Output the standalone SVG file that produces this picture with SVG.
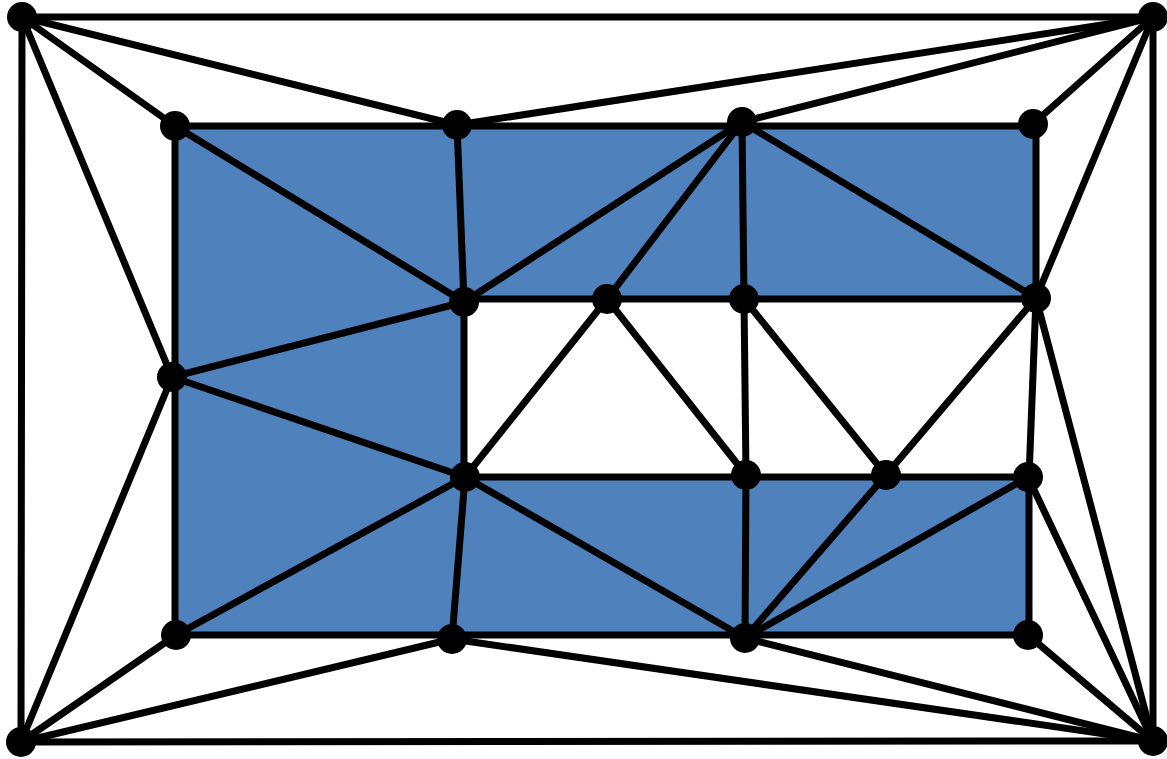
<svg xmlns="http://www.w3.org/2000/svg" width="1167" height="759" viewBox="0 0 1167 759">
<style>
.e{stroke:#000;stroke-width:7;stroke-linecap:round;fill:none}
.n{fill:#000}
.fill{fill:#4F81BD;stroke:none}
</style>
<rect width="1167" height="759" fill="#fff"/>
<polygon class="fill" points="175,126 1036,126 1036,299 464,299 464,477 1029,477 1029,635 175,635"/>
<g id="connectors">
<line class="e" x1="22" y1="17" x2="1153" y2="17"/>
<line class="e" x1="1153" y1="17" x2="1153" y2="741"/>
<line class="e" x1="1153" y1="741" x2="21" y2="742"/>
<line class="e" x1="21" y1="742" x2="22" y2="17"/>
<line class="e" x1="22" y1="17" x2="175" y2="126"/>
<line class="e" x1="22" y1="17" x2="457" y2="125"/>
<line class="e" x1="22" y1="17" x2="172" y2="377"/>
<line class="e" x1="1153" y1="17" x2="457" y2="125"/>
<line class="e" x1="1153" y1="17" x2="742" y2="122"/>
<line class="e" x1="1153" y1="17" x2="1033" y2="124"/>
<line class="e" x1="1153" y1="17" x2="1036" y2="298"/>
<line class="e" x1="21" y1="742" x2="172" y2="377"/>
<line class="e" x1="21" y1="742" x2="176" y2="635"/>
<line class="e" x1="21" y1="742" x2="452" y2="639"/>
<line class="e" x1="1153" y1="741" x2="452" y2="639"/>
<line class="e" x1="1153" y1="741" x2="745" y2="638"/>
<line class="e" x1="1153" y1="741" x2="1028" y2="635"/>
<line class="e" x1="1153" y1="741" x2="1028" y2="477"/>
<line class="e" x1="1153" y1="741" x2="1036" y2="298"/>
<line class="e" x1="175" y1="126" x2="1033" y2="126"/>
<line class="e" x1="1036" y1="126" x2="1036" y2="298"/>
<line class="e" x1="1036" y1="298" x2="1029" y2="477"/>
<line class="e" x1="1029" y1="477" x2="1029" y2="635"/>
<line class="e" x1="1029" y1="635" x2="175" y2="635"/>
<line class="e" x1="175" y1="635" x2="175" y2="126"/>
<line class="e" x1="464" y1="299" x2="1036" y2="299"/>
<line class="e" x1="464" y1="299" x2="464" y2="477"/>
<line class="e" x1="464" y1="477" x2="1029" y2="477"/>
<line class="e" x1="175" y1="126" x2="464" y2="302"/>
<line class="e" x1="457" y1="125" x2="464" y2="302"/>
<line class="e" x1="742" y1="122" x2="464" y2="302"/>
<line class="e" x1="742" y1="122" x2="607" y2="299"/>
<line class="e" x1="742" y1="122" x2="744" y2="299"/>
<line class="e" x1="742" y1="122" x2="1036" y2="298"/>
<line class="e" x1="172" y1="377" x2="464" y2="302"/>
<line class="e" x1="172" y1="377" x2="465" y2="477"/>
<line class="e" x1="465" y1="477" x2="607" y2="299"/>
<line class="e" x1="607" y1="299" x2="746" y2="475"/>
<line class="e" x1="744" y1="299" x2="746" y2="475"/>
<line class="e" x1="744" y1="299" x2="886" y2="475"/>
<line class="e" x1="1036" y1="298" x2="886" y2="475"/>
<line class="e" x1="465" y1="477" x2="176" y2="635"/>
<line class="e" x1="465" y1="477" x2="452" y2="639"/>
<line class="e" x1="465" y1="477" x2="745" y2="638"/>
<line class="e" x1="746" y1="475" x2="745" y2="638"/>
<line class="e" x1="886" y1="475" x2="745" y2="638"/>
<line class="e" x1="1028" y1="477" x2="745" y2="638"/>
</g>
<g id="n-tl"><circle class="n" cx="22" cy="17" r="15"/></g>
<g id="n-tr"><circle class="n" cx="1153" cy="17" r="15"/></g>
<g id="n-bl"><circle class="n" cx="21" cy="742" r="15"/></g>
<g id="n-br"><circle class="n" cx="1153" cy="741" r="15"/></g>
<g id="n-a"><circle class="n" cx="175" cy="126" r="15"/></g>
<g id="n-b"><circle class="n" cx="457" cy="125" r="15"/></g>
<g id="n-c"><circle class="n" cx="742" cy="122" r="15"/></g>
<g id="n-d"><circle class="n" cx="1033" cy="124" r="15"/></g>
<g id="n-e"><circle class="n" cx="464" cy="302" r="15"/></g>
<g id="n-f"><circle class="n" cx="607" cy="299" r="15"/></g>
<g id="n-g"><circle class="n" cx="744" cy="299" r="15"/></g>
<g id="n-h"><circle class="n" cx="1036" cy="298" r="15"/></g>
<g id="n-i"><circle class="n" cx="172" cy="377" r="15"/></g>
<g id="n-j"><circle class="n" cx="465" cy="477" r="15"/></g>
<g id="n-k"><circle class="n" cx="746" cy="475" r="15"/></g>
<g id="n-l"><circle class="n" cx="886" cy="475" r="15"/></g>
<g id="n-m"><circle class="n" cx="1028" cy="477" r="15"/></g>
<g id="n-n"><circle class="n" cx="176" cy="635" r="15"/></g>
<g id="n-o"><circle class="n" cx="452" cy="639" r="15"/></g>
<g id="n-p"><circle class="n" cx="745" cy="638" r="15"/></g>
<g id="n-q"><circle class="n" cx="1028" cy="635" r="15"/></g>
</svg>
